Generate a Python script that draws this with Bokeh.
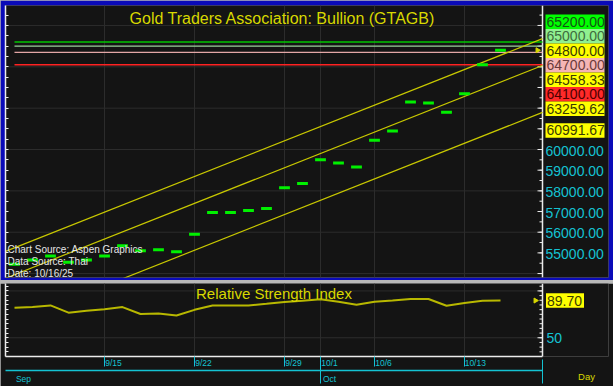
import math
from bokeh.plotting import figure
from bokeh.models import (Range1d, LinearAxis, FixedTicker, Grid, Label, ColumnDataSource)
from bokeh.layouts import column
from bokeh.core.properties import value
from bokeh.embed import file_html
from bokeh.resources import INLINE

# ---------------- data ----------------
dates = ["9/8", "9/9", "9/10", "9/11", "9/12", "9/15", "9/16", "9/17", "9/18", "9/19",
         "9/22", "9/23", "9/24", "9/25", "9/26", "9/29", "9/30", "10/1", "10/2", "10/3",
         "10/6", "10/7", "10/8", "10/9", "10/10", "10/13", "10/14", "10/15"]
close = [54450, 54650, 54850, 54550, 54650, 54850, 55350, 55100, 55150, 55050,
         55900, 56950, 56950, 57050, 57150, 58150, 58350, 59500, 59350, 59150,
         60450, 60900, 62300, 62250, 61800, 62700, 64100, 64800]
rsi = [82.0, 82.9, 84.5, 76.8, 78.8, 80.3, 82.7, 75.3, 76.0, 73.7,
       79.8, 84.5, 84.5, 84.5, 86.2, 88.2, 89.4, 91.1, 88.5, 85.2,
       88.5, 89.8, 91.4, 91.4, 84.2, 87.2, 89.4, 89.7]
date_tick_labels = ["9/15", "9/22", "9/29", "10/1", "10/6", "10/13"]
month_labels = ["Sep", "Oct"]
month_first_dates = ["9/8", "10/1"]
level_values = [65200, 65000, 64700, 64100]
level_colors = ["#00c400", "#9ccf9c", "#e3a6a6", "#ff2222"]
last_price = 64800
channel_last = [64558.33, 63259.62, 60991.67]
channel_slope = 345.0          # per trading day
flag_values = [65200.00, 65000.00, 64800.00, 64700.00, 64558.33, 64100.00, 63259.62, 60991.67]
flag_fill = ["#00ff00", "#90f090", "#ffff00", "#f5b5b5", "#ffff00", "#ff2a2a", "#ffff00", "#ffff00"]
flag_text = ["#145214", "#3d6b3d", "#3a3a00", "#6b3b3b", "#3a3a00", "#4d0000", "#3a3a00", "#3a3a00"]
price_axis_labels = [55000, 56000, 57000, 58000, 59000, 60000]
rsi_axis_labels = [50]
rsi_last_text = "89.70"
title = "Gold Traders Association: Bullion (GTAGB)"
rsi_title = "Relative Strength Index"
source_lines = ["Chart Source: Aspen Graphics", "Data Source: Thai", "Date: 10/16/25"]
interval_label = "Day"

# ---------------- style / layout ----------------
BG = "#141414"
GRID = "#2c2c2c"
WHITE = "#ececec"
CYAN = "#14c2d2"
YEL = "#d8d800"
CHAN = "#c8c800"
GREEN = "#00f000"
BLUE = "#0a0ab8"
SEP = "#b8b8b8"
FONT = "Liberation Sans"

W = 613
MH, GAP, RH = 280, 3, 103
ML, MR, MT, MB = 5, 5, 5, 3
RT, RB = 0, 24
FH = MH - MT - MB
FHR = RH - RT - RB
Y0, Y1 = 53809, 66965
R0, R1 = 30.0, 107.9
X0 = -0.5


def xpx(px):
    """reference pixel column -> trading-day index (18 px per day, frame starts at px 5)"""
    return X0 + (px - 5) / 18.0


XR = xpx(542)       # right edge of the chart area (ruler)
X1 = xpx(608)       # right edge of the label area

idx = list(range(len(dates)))
tick_idx = [dates.index(d) for d in date_tick_labels]
month_idx = [dates.index(d) for d in month_first_dates]


def base_fig(height, yr, top, bottom, border):
    f = figure(width=W, height=height, x_range=Range1d(X0, X1), y_range=yr,
               x_axis_location=None, y_axis_location=None, output_backend="svg",
               toolbar_location=None, min_border_left=ML, min_border_right=MR,
               min_border_top=top, min_border_bottom=bottom,
               background_fill_color=BG, border_fill_color=border, outline_line_color=None)
    f.center = [c for c in f.center if not isinstance(c, Grid)]
    return f


def left_ruler(fig, minor):
    ax = LinearAxis(ticker=FixedTicker(ticks=[], minor_ticks=minor), axis_line_color=WHITE,
                    axis_line_width=1.5, minor_tick_line_color=WHITE, minor_tick_in=3,
                    minor_tick_out=0, major_tick_in=0, major_tick_out=0, major_label_standoff=0)
    fig.add_layout(ax, "left")


def right_ruler(fig, y0, y1, small, big):
    fig.segment(x0=[XR], x1=[XR], y0=[y0], y1=[y1], line_color=WHITE, line_width=1.5)
    fig.ray(x=[XR] * len(small), y=small, length=3, length_units="screen", angle=math.pi,
            line_color=WHITE, line_width=1)
    fig.ray(x=[XR] * len(big), y=big, length=5, length_units="screen", angle=math.pi,
            line_color=WHITE, line_width=1)


def hgrid(fig, vals):
    fig.segment(x0=[X0] * len(vals), x1=[XR] * len(vals), y0=vals, y1=vals,
                line_color=GRID, line_width=1)


def flag(fig, x_left, x_right, y, text, fill, color, h):
    fig.rect(x=[(x_left + x_right) / 2], y=[y], width=x_right - x_left, height=h,
             height_units="screen", fill_color=fill, line_color=None)
    fig.text(x=[x_left], y=[y], text=[text], x_offset=1, text_align="left",
             text_baseline="middle", text_color=color, text_font=value(FONT),
             text_font_size="14px")


# ---------------- main panel ----------------
p = base_fig(MH, Range1d(Y0, Y1), MT, MB, BLUE)
hgrid(p, list(range(54000, 67000, 2000)))
p.add_layout(Grid(dimension=0, ticker=FixedTicker(ticks=tick_idx), grid_line_color=GRID))
left_ruler(p, list(range(54000, 67000, 500)))
right_ruler(p, Y0, Y1, list(range(54000, 67000, 500)), list(range(54000, 67000, 1000)))
p.text(x=[xpx(545)] * len(price_axis_labels), y=price_axis_labels,
       text=[f"{v:.2f}" for v in price_axis_labels], y_offset=1, text_align="left",
       text_baseline="middle", text_color=CYAN, text_font=value(FONT), text_font_size="14px")

# level lines
p.segment(x0=[idx[0]] * len(level_values), x1=[XR] * len(level_values),
          y0=level_values, y1=level_values, line_color=level_colors, line_width=1.3)
# regression channel
last_i = idx[-1]
p.segment(x0=[X0] * 3, x1=[XR] * 3,
          y0=[c + channel_slope * (X0 - last_i) for c in channel_last],
          y1=[c + channel_slope * (XR - last_i) for c in channel_last],
          line_color=CHAN, line_width=1.2)
# price marks
src = ColumnDataSource(dict(x=idx, close=close))
p.rect(x="x", y="close", width=0.6, height=3, height_units="screen",
       fill_color=GREEN, line_color=None, source=src)
p.scatter(x=[xpx(537)], y=[last_price], marker="triangle", size=5,
          angle=-math.pi / 2, color=YEL)

# title
p.add_layout(Label(x=282 - ML, y=FH - (17.5 - MT), x_units="screen", y_units="screen",
                   text=title, text_align="center", text_baseline="alphabetic",
                   text_color=YEL, text_font=FONT, text_font_size="16px"))
# source lines
for k, t in enumerate(source_lines):
    p.add_layout(Label(x=2, y=FH - (248.5 + 12 * k - MT), x_units="screen",
                       y_units="screen", text=t, text_align="left", text_baseline="alphabetic",
                       text_color="#e6e6e6", text_font=FONT, text_font_size="10px"))


# flagged value labels on the right, stacked to avoid overlap
def stack(desired, h, top_min):
    clusters = [[d] for d in desired]

    def top(c):
        return sum(c) / len(c) - len(c) * h / 2

    merged = True
    while merged:
        merged = False
        for j in range(len(clusters) - 1):
            if top(clusters[j]) + len(clusters[j]) * h > top(clusters[j + 1]):
                clusters[j] = clusters[j] + clusters.pop(j + 1)
                merged = True
                break
    out, prev = [], top_min
    for c in clusters:
        t = max(top(c), prev)
        out += [t + h * (k + 0.5) for k in range(len(c))]
        prev = t + len(c) * h
    return out


kpx = FH / (Y1 - Y0)
LH = 14.5
order = sorted(range(len(flag_values)), key=lambda i: -flag_values[i])
desired = [(Y1 - flag_values[i]) * kpx + 1.5 for i in order]
placed = stack(desired, LH, 9)
for i, d in zip(order, placed):
    flag(p, xpx(545), xpx(604), Y1 - d / kpx, f"{flag_values[i]:.2f}",
         flag_fill[i], flag_text[i], LH)

# ---------------- RSI panel ----------------
r = base_fig(RH, Range1d(R0, R1), RT, RB, BG)
r.x_range = p.x_range
hgrid(r, [50, 100])
r.add_layout(Grid(dimension=0, ticker=FixedTicker(ticks=tick_idx), grid_line_color=GRID))
left_ruler(r, list(range(35, 110, 5)))
right_ruler(r, R0, R1, list(range(35, 110, 5)), [50, 100])
r.text(x=[xpx(546)] * len(rsi_axis_labels), y=rsi_axis_labels,
       text=[f"{v:g}" for v in rsi_axis_labels], text_align="left", text_baseline="middle",
       text_color=CYAN, text_font=value(FONT), text_font_size="14px")

r.line(idx, rsi, line_color="#b8b800", line_width=2)
r.scatter(x=[xpx(535)], y=[rsi[-1]], marker="triangle", size=5, angle=-math.pi / 2, color=YEL)
flag(r, xpx(545.5), xpx(583.5), rsi[-1], rsi_last_text, "#ffff00", "#3a3a00", 14.4)
r.add_layout(Label(x=273.5 - ML, y=FHR - (298.5 - 283), x_units="screen",
                   y_units="screen", text=rsi_title, text_align="center",
                   text_baseline="alphabetic", text_color=YEL, text_font=FONT,
                   text_font_size="15px"))

# date band below
ax_d = LinearAxis(ticker=FixedTicker(ticks=[], minor_ticks=tick_idx), bounds=(X0, XR),
                  axis_line_color=WHITE, axis_line_width=1.5,
                  minor_tick_line_color=CYAN, minor_tick_in=0, minor_tick_out=10,
                  major_tick_in=0, major_tick_out=0, major_label_standoff=0)
r.add_layout(ax_d, "below")
lab_pos = [i + (0.6 if len(t) > 4 else 0.5) for i, t in zip(tick_idx, date_tick_labels)]
ax_dl = LinearAxis(ticker=FixedTicker(ticks=lab_pos),
                   major_label_overrides={pos: t for pos, t in zip(lab_pos, date_tick_labels)},
                   axis_line_color=None, major_tick_line_color=None, minor_tick_line_color=None,
                   major_tick_in=0, major_tick_out=0, major_label_standoff=-9,
                   major_label_text_color=CYAN, major_label_text_font=FONT,
                   major_label_text_font_size="8.5px")
r.add_layout(ax_dl, "below")
ax_m = LinearAxis(ticker=FixedTicker(ticks=[], minor_ticks=[month_idx[1], XR - 0.005]),
                  bounds=(X0, XR), axis_line_color=CYAN, axis_line_width=1.5,
                  minor_tick_line_color=CYAN, minor_tick_in=11, minor_tick_out=13,
                  major_tick_in=0, major_tick_out=0, major_label_standoff=0)
r.add_layout(ax_m, "below")
mpos = [i + 0.5 for i in month_idx]
ax_ml = LinearAxis(ticker=FixedTicker(ticks=mpos),
                   major_label_overrides={pos: t for pos, t in zip(mpos, month_labels)},
                   axis_line_color=None, major_tick_line_color=None, minor_tick_line_color=None,
                   major_tick_in=0, major_tick_out=0, major_label_standoff=-10,
                   major_label_text_color=CYAN, major_label_text_font=FONT,
                   major_label_text_font_size="8.5px")
r.add_layout(ax_ml, "below")
day_pos = [xpx(586)]
ax_day = LinearAxis(ticker=FixedTicker(ticks=day_pos),
                    major_label_overrides={day_pos[0]: interval_label},
                    axis_line_color=None, major_tick_line_color=None, minor_tick_line_color=None,
                    major_tick_in=0, major_tick_out=0, major_label_standoff=-16,
                    major_label_text_color=YEL, major_label_text_font=FONT,
                    major_label_text_font_size="9.5px")
r.add_layout(ax_day, "below")

layout = column(p, r, spacing=GAP, styles={"background-color": SEP})
open("out.html", "w").write(file_html(layout, INLINE))
